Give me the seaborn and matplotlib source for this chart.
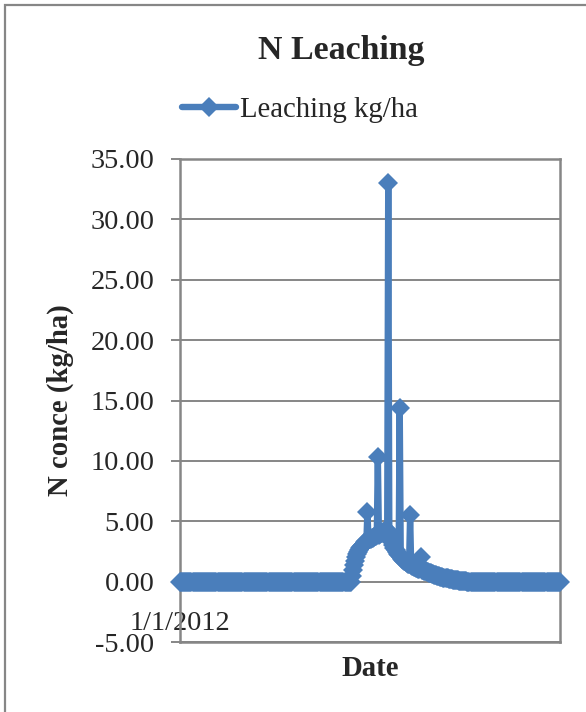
import numpy as np
import pandas as pd
import matplotlib
matplotlib.use("Agg")
import matplotlib.pyplot as plt
from matplotlib.patches import Rectangle
import seaborn as sns

# daily N leaching (kg/ha), 2012, starting 1/1/2012
start_date = "2012-01-01"
lead_zeros = [0.0] * 164          # 1 Jan .. mid June: nothing leached
event = [
    0.00, 0.50, 0.95, 1.35, 1.70, 2.00, 2.25, 2.45, 2.60, 2.75,
    2.85, 2.95, 3.05, 3.15, 3.25, 3.35, 5.80, 3.45, 3.50, 3.55,
    3.60, 3.65, 3.70, 3.75, 3.80, 3.85, 10.30, 3.90, 3.95, 4.00,
    4.05, 4.10, 4.15, 4.20, 4.25, 4.30, 33.00, 4.10, 3.80, 3.50,
    3.25, 3.00, 2.80, 2.60, 2.45, 2.30, 2.20, 14.40, 2.00, 1.90,
    1.82, 1.75, 1.68, 1.62, 1.56, 1.50, 1.45, 5.50, 1.35, 1.30,
    1.26, 1.22, 1.18, 1.14, 1.10, 1.06, 1.02, 2.00, 0.96, 0.93,
    0.90, 0.87, 0.84, 0.80, 0.77, 0.74, 0.71, 0.68, 0.65, 0.62,
    0.59, 0.56, 0.53, 0.50, 0.47, 0.44, 0.41, 0.38, 0.36, 0.34,
    0.32, 0.30, 0.28, 0.26, 0.24, 0.22, 0.20, 0.18, 0.16, 0.15,
    0.14, 0.12, 0.11, 0.10, 0.09, 0.08, 0.07, 0.06, 0.05, 0.04,
    0.03, 0.02, 0.01, 0.00,
]
tail_zeros = [0.0] * (366 - len(lead_zeros) - len(event))
leaching = lead_zeros + event + tail_zeros

y_ticks = [-5, 0, 5, 10, 15, 20, 25, 30, 35]
y_tick_labels = ["-5.00", "0.00", "5.00", "10.00", "15.00", "20.00",
                 "25.00", "30.00", "35.00"]
x_tick_labels = ["1/1/2012"]

df = pd.DataFrame({
    "Date": pd.date_range(start_date, periods=len(leaching), freq="D"),
    "Leaching kg/ha": leaching,
})

BLUE = "#4A7EBB"
GREY = "#868686"

sns.set_theme(style="white")
plt.rcParams["font.family"] = ["Liberation Serif", "DejaVu Serif"]

fig = plt.figure(figsize=(5.86, 7.12), dpi=100)
ax = fig.add_axes([0.3072, 0.0983, 0.6485, 0.6784])

sns.lineplot(
    data=df, x="Date", y="Leaching kg/ha", ax=ax, color=BLUE,
    linewidth=4.6, marker="D", markersize=10, markeredgewidth=0,
    label="Leaching kg/ha", legend=False, clip_on=False, zorder=3,
)

ax.set_xlim(df["Date"].iloc[0], df["Date"].iloc[-1])
ax.set_ylim(-5, 35)
ax.set_yticks(y_ticks, labels=y_tick_labels)
ax.set_xticks([df["Date"].iloc[0]], labels=x_tick_labels)

ax.grid(axis="y", color=GREY, linewidth=1.4)
ax.grid(axis="x", visible=False)
ax.set_axisbelow(True)
for sp in ax.spines.values():
    sp.set_color(GREY)
    sp.set_linewidth(1.8)
    sp.set_visible(True)

ax.tick_params(axis="y", direction="out", length=6.5, width=1.4, color=GREY,
               pad=12, labelsize=20.3, left=True)
ax.tick_params(axis="x", length=0, pad=-22.5, labelsize=20.3)

ax.set_xlabel("Date", fontsize=20.7, fontweight="bold")
ax.xaxis.set_label_coords(0.5, -0.027)
ax.set_ylabel("N conce (kg/ha)", fontsize=20.7, fontweight="bold")
ax.yaxis.set_label_coords(-0.28, 0.5)

fig.text(0.582, 0.929, "N Leaching", ha="center", va="center",
         fontsize=24.4, fontweight="bold")

handles, labels = ax.get_legend_handles_labels()
fig.legend(handles, labels, loc="center", bbox_to_anchor=(0.512, 0.845),
           frameon=False, fontsize=20.7, handlelength=1.88, handletextpad=0.12)

# outer chart frame (runs off the right and bottom of the picture)
fig.patches.append(Rectangle((5 / 586, -0.2), 1.3, 1.2 - 5 / 712,
                             transform=fig.transFigure, fill=False,
                             edgecolor=GREY, linewidth=1.6, clip_on=False))

fig.savefig("out.png", dpi=100)
